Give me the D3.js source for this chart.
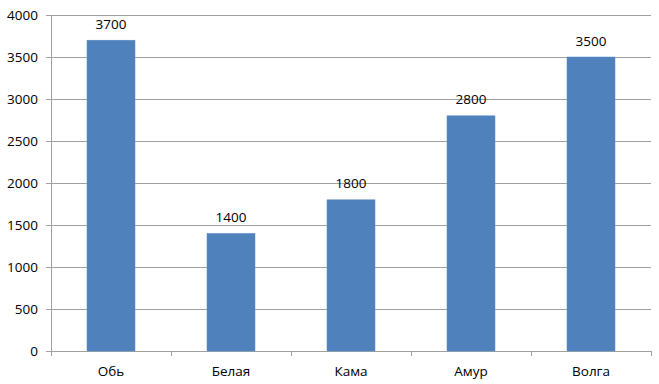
<!DOCTYPE html>
<html lang="ru">
<head>
<meta charset="UTF-8">
<title>Реки</title>
<script src="https://d3js.org/d3.v7.min.js"></script>
<style>
  * { margin: 0; padding: 0; }
  body { background: #fff; }
  svg text { font-family: "Open Sans", "Liberation Sans", sans-serif; font-size: 13.5px; fill: #000; }
</style>
</head>
<body>
<script>
var width = 659, height = 384;
var rivers = ['Обь', 'Белая', 'Кама', 'Амур', 'Волга'];
var lengths = [3700, 1400, 1800, 2800, 3500];
var yTicks = [0, 500, 1000, 1500, 2000, 2500, 3000, 3500, 4000];

// plot area (window.top is reserved, so use other names)
var plotLeft = 51, plotRight = 651, plotTop = 15, plotBottom = 351;

var svg = d3.select('body').append('svg')
    .attr('width', width)
    .attr('height', height);

var x = d3.scaleBand()
    .domain(rivers)
    .range([plotLeft, plotRight])
    .paddingInner(0.6)
    .paddingOuter(0.3);

var y = d3.scaleLinear()
    .domain([0, 4000])
    .range([plotBottom, plotTop]);

// gridlines
svg.append('g')
    .selectAll('line')
    .data(yTicks)
    .enter()
    .append('line')
    .attr('x1', plotLeft - 5)
    .attr('x2', plotRight)
    .attr('y1', function (d) { return Math.round(y(d)) + 0.5; })
    .attr('y2', function (d) { return Math.round(y(d)) + 0.5; })
    .attr('stroke', '#a0a0a0');

// y axis line
svg.append('line')
    .attr('x1', plotLeft + 0.5).attr('x2', plotLeft + 0.5)
    .attr('y1', plotTop).attr('y2', plotBottom + 0.5)
    .attr('stroke', '#a0a0a0');

// y labels
svg.append('g')
    .selectAll('text')
    .data(yTicks)
    .enter()
    .append('text')
    .attr('x', 38)
    .attr('y', function (d) { return y(d); })
    .attr('dy', '0.35em')
    .attr('text-anchor', 'end')
    .text(function (d) { return d; });

// x tick marks at category boundaries
var bounds = d3.range(rivers.length + 1).map(function (i) {
    return plotLeft + i * (plotRight - plotLeft) / rivers.length;
});
svg.append('g')
    .selectAll('line')
    .data(bounds)
    .enter()
    .append('line')
    .attr('x1', function (d) { return Math.round(d) + 0.5; })
    .attr('x2', function (d) { return Math.round(d) + 0.5; })
    .attr('y1', plotBottom)
    .attr('y2', plotBottom + 5)
    .attr('stroke', '#a0a0a0');

// bars
svg.append('g')
    .selectAll('rect')
    .data(lengths)
    .enter()
    .append('rect')
    .attr('x', function (d, i) { return x(rivers[i]); })
    .attr('y', function (d) { return y(d); })
    .attr('width', x.bandwidth())
    .attr('height', function (d) { return plotBottom - y(d); })
    .attr('fill', '#4f81bd')
    .attr('stroke', '#5a8ac6')
    .attr('stroke-width', 0.5);

// value labels
svg.append('g')
    .selectAll('text')
    .data(lengths)
    .enter()
    .append('text')
    .attr('x', function (d, i) { return x(rivers[i]) + x.bandwidth() / 2; })
    .attr('y', function (d) { return y(d) - 11.5; })
    .attr('text-anchor', 'middle')
    .text(function (d) { return d; });

// category labels
svg.append('g')
    .selectAll('text')
    .data(rivers)
    .enter()
    .append('text')
    .attr('x', function (d) { return x(d) + x.bandwidth() / 2; })
    .attr('y', 376)
    .attr('text-anchor', 'middle')
    .text(function (d) { return d; });
</script>
</body>
</html>
